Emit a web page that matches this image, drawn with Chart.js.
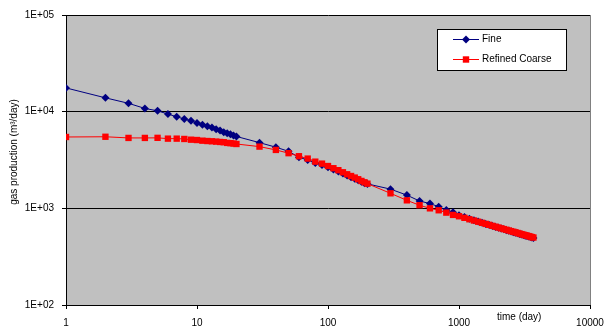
<!DOCTYPE html>
<html>
<head>
<meta charset="utf-8">
<script src="https://cdn.jsdelivr.net/npm/chart.js@4/dist/chart.umd.min.js"></script>
<style>
  body { margin: 0; background: #fff; }
  #wrap { width: 604px; height: 330px; }
</style>
</head>
<body>
<div id="wrap"><canvas id="grafico"></canvas></div>
<script>
// dados
const days = [1, 2, 3, 4, 5, 6, 7, 8, 9, 10, 11, 12, 13, 14, 15, 16, 17, 18, 19, 20,
  30, 40, 50, 60, 70, 80, 90, 100, 110, 120, 130, 140, 150, 160, 170, 180, 190, 200,
  300, 400, 500, 600, 700, 800, 900, 1000, 1100, 1200, 1300, 1400, 1500, 1600, 1700, 1800,
  1900, 2000, 2100, 2200, 2300, 2400, 2500, 2600, 2700, 2800, 2900, 3000, 3100, 3200,
  3300, 3400, 3500, 3600, 3700];

const fine = [17600, 13900, 12200, 10800, 10200, 9450, 8850, 8400, 8050, 7650, 7340, 7060, 6840, 6580, 6370, 6130, 5980, 5840, 5680, 5540,
  4780, 4290, 3890, 3370, 3170, 2950, 2810, 2660, 2520, 2410, 2290, 2180, 2100, 2020, 1950, 1880, 1820, 1790,
  1580, 1370, 1190, 1120, 1040, 960, 912, 850, 812, 780, 752, 729, 708, 689, 672, 656,
  642, 629, 617, 606, 595, 585, 576, 567, 559, 551, 543, 536, 529, 522,
  516, 510, 504, 498, 492];

const refinedCoarse = [5470, 5500, 5350, 5350, 5360, 5260, 5260, 5220, 5130, 5090, 5010, 4970, 4940, 4900, 4860, 4830, 4750, 4720, 4680, 4630,
  4350, 4020, 3720, 3460, 3270, 3040, 2900, 2740, 2600, 2480, 2360, 2250, 2160, 2080, 2000, 1920, 1860, 1800,
  1430, 1210, 1077, 1000, 955, 903, 855, 828, 798, 771, 748, 727, 708, 690, 675, 659,
  646, 633, 621, 610, 600, 590, 581, 572, 564, 556, 548, 541, 534, 528,
  522, 516, 510, 504, 499];

const xTicks = [1, 10, 100, 1000, 10000];
const xTickLabels = ['1', '10', '100', '1000', '10000'];
const yTicks = [100, 1000, 10000, 100000];
const yTickLabels = ['1E+02', '1E+03', '1E+04', '1E+05'];

const seriesNames = ['Fine', 'Refined Coarse'];
const seriesColors = ['#000080', '#FF0000'];

const FONT = '"Liberation Sans", Arial, sans-serif';

function toPoints(xs, ys) {
  return xs.map((x, i) => ({ x: x, y: ys[i] }));
}

// fundo cinza, borda, títulos e legenda
const decoracao = {
  id: 'decoracao',
  beforeDraw(chart) {
    const a = chart.chartArea;
    const ctx = chart.ctx;
    ctx.save();
    ctx.fillStyle = '#C0C0C0';
    ctx.fillRect(a.left, a.top, a.right - a.left, a.bottom - a.top);
    ctx.restore();
  },
  afterDraw(chart) {
    const a = chart.chartArea;
    const ctx = chart.ctx;
    ctx.save();
    // borda direita
    ctx.strokeStyle = '#808080';
    ctx.lineWidth = 1;
    ctx.beginPath();
    ctx.moveTo(a.right + 0.5, a.top);
    ctx.lineTo(a.right + 0.5, a.bottom);
    ctx.stroke();

    ctx.fillStyle = '#000';
    ctx.font = '10px ' + FONT;
    // título eixo x
    ctx.textAlign = 'left';
    ctx.textBaseline = 'middle';
    ctx.fillText('time (day)', 497, 317);
    // título eixo y
    ctx.save();
    ctx.translate(14, 152);
    ctx.rotate(-Math.PI / 2);
    ctx.textAlign = 'center';
    ctx.fillText('gas production (m³/day)', 0, 0);
    ctx.restore();

    // legenda
    const lx = 437.5, ly = 29.5, lw = 129, lh = 41;
    ctx.fillStyle = '#fff';
    ctx.fillRect(lx, ly, lw, lh);
    ctx.strokeStyle = '#000';
    ctx.strokeRect(lx, ly, lw, lh);
    seriesNames.forEach((name, i) => {
      const y = 39.5 + i * 20;
      ctx.strokeStyle = seriesColors[i];
      ctx.lineWidth = 1;
      ctx.beginPath();
      ctx.moveTo(453, y);
      ctx.lineTo(479, y);
      ctx.stroke();
      ctx.fillStyle = seriesColors[i];
      ctx.beginPath();
      if (i === 0) {
        ctx.moveTo(466, y - 4);
        ctx.lineTo(470, y);
        ctx.lineTo(466, y + 4);
        ctx.lineTo(462, y);
        ctx.closePath();
        ctx.fill();
      } else {
        ctx.fillRect(462.8, y - 3.2, 6.4, 6.4);
      }
      ctx.fillStyle = '#000';
      ctx.textAlign = 'left';
      ctx.fillText(name, 482, y);
    });
    ctx.restore();
  }
};

const config = {
  type: 'scatter',
  data: {
    datasets: [
      {
        label: seriesNames[0],
        data: toPoints(days, fine),
        showLine: true,
        borderColor: seriesColors[0],
        backgroundColor: seriesColors[0],
        borderWidth: 1,
        pointStyle: 'rectRot',
        pointRadius: 4,
        pointBorderWidth: 0,
        order: 2
      },
      {
        label: seriesNames[1],
        data: toPoints(days, refinedCoarse),
        showLine: true,
        borderColor: seriesColors[1],
        backgroundColor: seriesColors[1],
        borderWidth: 1,
        pointStyle: 'rect',
        pointRadius: 4.5,
        pointBorderWidth: 0,
        order: 1
      }
    ]
  },
  options: {
    responsive: true,
    maintainAspectRatio: false,
    animation: false,
    layout: { padding: { top: 15, right: 14, left: 0, bottom: 0 } },
    plugins: {
      legend: { display: false },
      tooltip: { enabled: false }
    },
    scales: {
      x: {
        type: 'logarithmic',
        min: 1,
        max: 10000,
        afterBuildTicks: function(scale) {
          scale.ticks = xTicks.map(v => ({ value: v }));
        },
        afterFit: function(scale) {
          scale.height = 25;
          scale.paddingLeft = 0;
          scale.paddingRight = 0;
        },
        ticks: {
          autoSkip: false,
          maxRotation: 0,
          padding: 8,
          color: '#000',
          font: { family: FONT, size: 10 },
          callback: function(value, index) { return xTickLabels[index]; }
        },
        grid: {
          drawOnChartArea: false,
          drawTicks: true,
          tickLength: 4,
          color: '#000'
        },
        border: { display: true, color: '#000', width: 1 }
      },
      y: {
        type: 'logarithmic',
        min: 100,
        max: 100000,
        afterBuildTicks: function(scale) {
          scale.ticks = yTicks.map(v => ({ value: v }));
        },
        afterFit: function(scale) { scale.width = 66; },
        ticks: {
          autoSkip: false,
          padding: 8,
          color: '#000',
          font: { family: FONT, size: 10 },
          callback: function(value, index) { return yTickLabels[index]; }
        },
        grid: {
          drawOnChartArea: true,
          drawTicks: true,
          tickLength: 4,
          color: '#000'
        },
        border: { display: true, color: '#000', width: 1 }
      }
    }
  },
  plugins: [decoracao]
};

const ctx = document.getElementById('grafico').getContext('2d');
const grafico = new Chart(ctx, config);
</script>
</body>
</html>
